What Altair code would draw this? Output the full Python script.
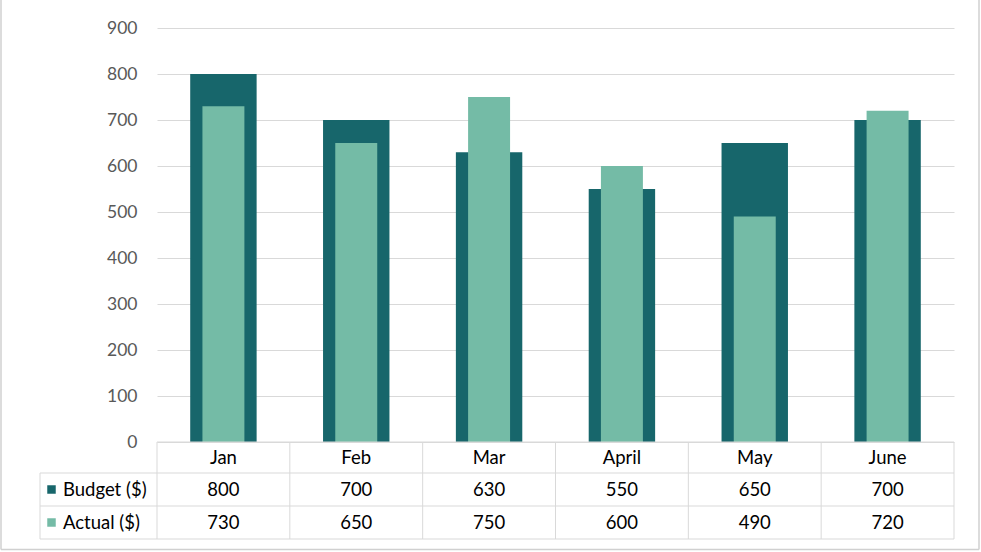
import altair as alt
import pandas as pd

months = ["Jan", "Feb", "Mar", "April", "May", "June"]
budget = [800, 700, 630, 550, 650, 700]
actual = [730, 650, 750, 600, 490, 720]
series_names = ["Budget ($)", "Actual ($)"]
series_colors = ["#17666B", "#74BBA6"]
y_ticks = [0, 100, 200, 300, 400, 500, 600, 700, 800, 900]

W, H = 797, 414
FONT = "Lato"
GRID = "#D9D9D9"
TFS = 18.5

df_b = pd.DataFrame({"month": months, "value": budget})
df_a = pd.DataFrame({"month": months, "value": actual})
df_m = pd.DataFrame({"month": months})
df_last = pd.DataFrame({"month": months[-1:]})
df_legend = pd.DataFrame({"series": series_names, "color": series_colors})
one = pd.DataFrame({"k": [0]})

xs = alt.Scale(domain=months, paddingInner=0, paddingOuter=0)
X = alt.X("month:N", scale=xs, axis=None, sort=months)
Y = alt.Y("value:Q", scale=alt.Scale(domain=[0, 900], nice=False),
          axis=alt.Axis(values=y_ticks, title=None, domain=False, ticks=False,
                        labelPadding=20, grid=True, gridColor=GRID,
                        labelFont=FONT, labelFontSize=17.5, labelColor="#595959"))

bars_b = alt.Chart(df_b).mark_bar(color=series_colors[0], width=alt.RelativeBandSize(0.5)).encode(x=X, y=Y)
bars_a = alt.Chart(df_a).mark_bar(color=series_colors[1], width=alt.RelativeBandSize(0.316)).encode(x=X, y="value:Q")

ROW_H, ROW_B, ROW_A = 429.5, 461.5, 494.5
txt = dict(font=FONT, fontSize=TFS, color="#000000", baseline="middle", align="center")

hdr = alt.Chart(df_m).mark_text(**txt).encode(x=X, y=alt.value(ROW_H), text="month:N")
row_b = alt.Chart(df_b).mark_text(**txt).encode(x=X, y=alt.value(ROW_B), text="value:Q")
row_a = alt.Chart(df_a).mark_text(**txt).encode(x=X, y=alt.value(ROW_A), text="value:Q")

ltxt = dict(font=FONT, fontSize=TFS, color="#000000", baseline="middle", align="left")
leg_txt_b = alt.Chart(df_legend.iloc[[0]]).mark_text(**ltxt).encode(
    x=alt.value(-94), y=alt.value(ROW_B), text="series:N")
leg_txt_a = alt.Chart(df_legend.iloc[[1]]).mark_text(**ltxt).encode(
    x=alt.value(-94), y=alt.value(ROW_A), text="series:N")
leg_sq_b = alt.Chart(df_legend.iloc[[0]]).mark_square(size=72, opacity=1, color=series_colors[0]).encode(
    x=alt.value(-105.5), y=alt.value(ROW_B))
leg_sq_a = alt.Chart(df_legend.iloc[[1]]).mark_square(size=72, opacity=1, color=series_colors[1]).encode(
    x=alt.value(-105.5), y=alt.value(ROW_A))

line = dict(color=GRID, strokeWidth=1)
vlines = alt.Chart(df_m).mark_rule(**line).encode(
    x=alt.X("month:N", scale=xs, sort=months, axis=None, bandPosition=0), y=alt.value(414), y2=alt.value(511))
vline_end = alt.Chart(df_last).mark_rule(**line).encode(
    x=alt.X("month:N", scale=xs, sort=months, axis=None, bandPosition=1), y=alt.value(414), y2=alt.value(511))
vline_leg = alt.Chart(one).mark_rule(**line).encode(x=alt.value(-117), y=alt.value(445), y2=alt.value(511))
h0 = alt.Chart(one).mark_rule(**line).encode(x=alt.value(0), x2=alt.value(W), y=alt.value(414))
h1 = alt.Chart(one).mark_rule(**line).encode(x=alt.value(-117), x2=alt.value(W), y=alt.value(445))
h2 = alt.Chart(one).mark_rule(**line).encode(x=alt.value(-117), x2=alt.value(W), y=alt.value(478))
h3 = alt.Chart(one).mark_rule(**line).encode(x=alt.value(-117), x2=alt.value(W), y=alt.value(511))

border = dict(color="#D0D0D0", strokeWidth=1.5)
b_left = alt.Chart(one).mark_rule(**border).encode(x=alt.value(-156), y=alt.value(-28), y2=alt.value(521.5))
b_right = alt.Chart(one).mark_rule(**border).encode(x=alt.value(822), y=alt.value(-28), y2=alt.value(521.5))
b_bottom = alt.Chart(one).mark_rule(**border).encode(x=alt.value(-156), x2=alt.value(822), y=alt.value(521.5))

chart = alt.layer(
    bars_b, bars_a, h0, h1, h2, h3, vlines, vline_end, vline_leg,
    hdr, row_b, row_a, leg_sq_b, leg_sq_a, leg_txt_b, leg_txt_a,
    b_left, b_right, b_bottom,
).properties(
    width=W, height=H,
    autosize=alt.AutoSizeParams(type="none"),
    padding={"left": 157, "top": 28, "right": 27, "bottom": 110},
    background="white",
).configure_view(strokeWidth=0)

chart.save("out.html", embed_options={"renderer": "svg", "actions": False})
